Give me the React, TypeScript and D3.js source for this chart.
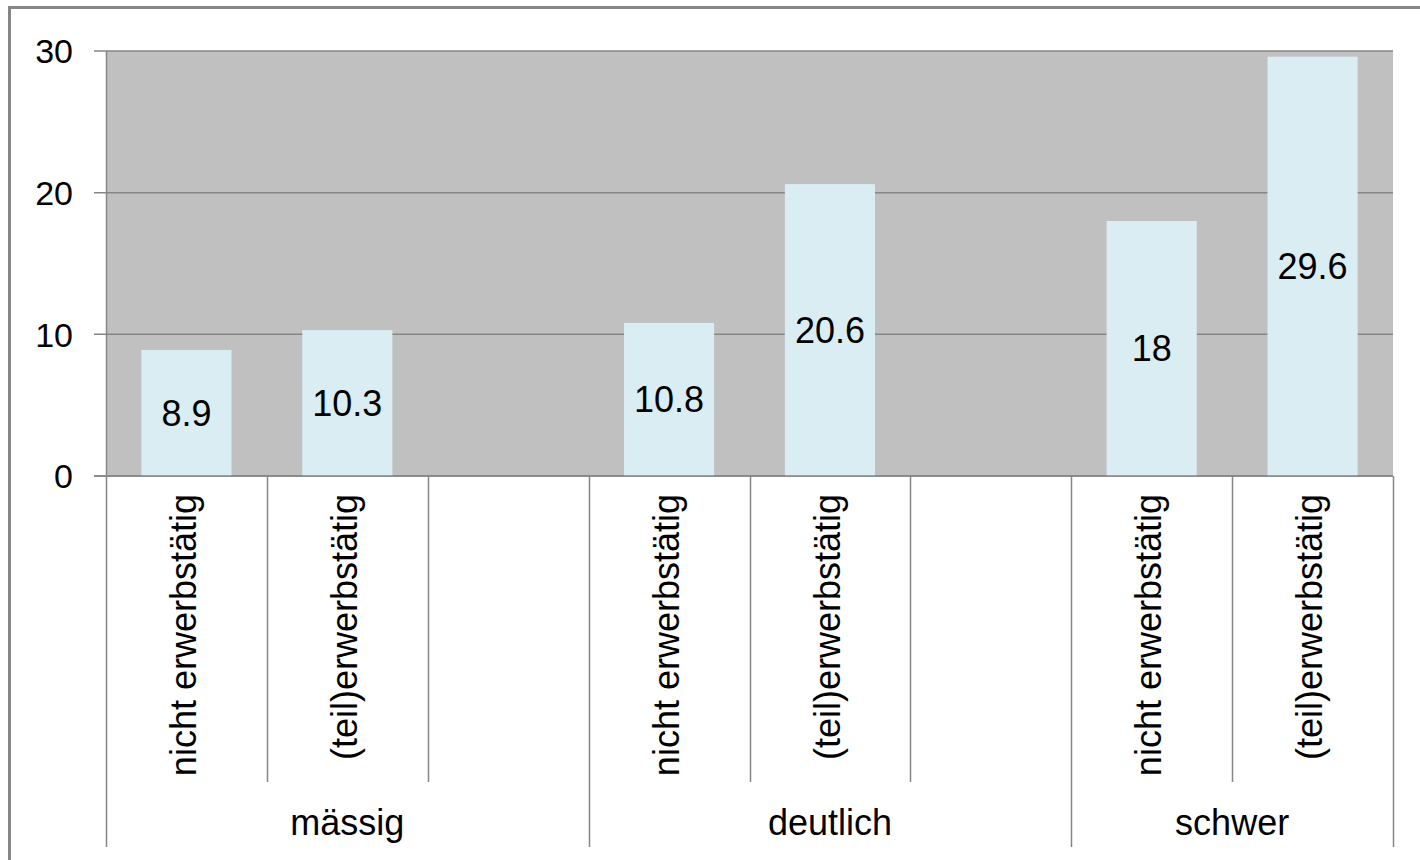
import React from "react";
import * as d3 from "d3";

// Category slots along the x axis (empty strings are spacer slots)
const slotLabels: string[] = [
  "nicht erwerbstätig",
  "(teil)erwerbstätig",
  "",
  "nicht erwerbstätig",
  "(teil)erwerbstätig",
  "",
  "nicht erwerbstätig",
  "(teil)erwerbstätig",
];

// Outer grouping level and how many slots each group covers
const groupLabels: string[] = ["mässig", "deutlich", "schwer"];
const groupSizes: number[] = [3, 3, 2];

// Bar values per slot (null = no bar)
const values: (number | null)[] = [8.9, 10.3, null, 10.8, 20.6, null, 18, 29.6];

const yTicks: number[] = [0, 10, 20, 30];

const W = 1420;
const H = 860;
const plot = { left: 106, right: 1393, top: 51, bottom: 476 };

const FONT = "'Liberation Sans', Arial, sans-serif";
const LINE = "#868686";
const PLOT_BG = "#C0C0C0";
const BAR = "#DAEDF3";

export default function App() {
  const idx = slotLabels.map((_, i) => String(i));
  const x = d3.scaleBand<string>().domain(idx).range([plot.left, plot.right]).padding(0);
  const step = x.step();
  const barW = step * 0.56;
  const barOff = (step - barW) / 2;

  const y = d3.scaleLinear().domain([0, 30]).range([plot.bottom, plot.top]);

  // group boundaries in slot indices
  const groupStarts: number[] = [];
  let acc = 0;
  groupSizes.forEach((n) => {
    groupStarts.push(acc);
    acc += n;
  });

  const slotEdge = (i: number) => (i >= slotLabels.length ? plot.right : (x(String(i)) as number));
  const groupEdgeSet = new Set<number>([...groupStarts, slotLabels.length]);

  const slotLineBottom = 782;
  const groupLineBottom = 847;
  const rotLabelTop = 494;
  const groupLabelBaseline = 835;

  return (
    <svg
      width={W}
      height={H}
      style={{ position: "fixed", left: 0, top: 0, background: "#fff" }}
      fontFamily={FONT}
    >
      {/* chart frame */}
      <rect x={9.5} y={7.5} width={W + 20} height={H + 20} fill="#fff" stroke={LINE} strokeWidth={3} />

      {/* plot area */}
      <rect x={plot.left} y={plot.top} width={plot.right - plot.left} height={plot.bottom - plot.top} fill={PLOT_BG} />

      {/* gridlines and y ticks */}
      {yTicks.map((t) => (
        <g key={t}>
          <line x1={94} x2={plot.right} y1={y(t)} y2={y(t)} stroke={LINE} strokeWidth={1.5} />
          <text x={73} y={y(t)} dy="0.36em" textAnchor="end" fontSize={34} fill="#000">
            {t}
          </text>
        </g>
      ))}

      {/* bars */}
      {values.map((v, i) =>
        v == null ? null : (
          <rect
            key={i}
            x={(x(String(i)) as number) + barOff}
            y={y(v)}
            width={barW}
            height={y(0) - y(v)}
            fill={BAR}
          />
        )
      )}

      {/* value labels, centred in each bar */}
      {values.map((v, i) =>
        v == null ? null : (
          <text
            key={i}
            x={(x(String(i)) as number) + step / 2}
            y={(y(v) + y(0)) / 2}
            dy="0.36em"
            textAnchor="middle"
            fontSize={36}
            fill="#000"
          >
            {v}
          </text>
        )
      )}

      {/* axes */}
      <line x1={94} x2={plot.right} y1={plot.bottom} y2={plot.bottom} stroke={LINE} strokeWidth={1.5} />

      {/* category separators: slot ticks short, group boundaries long */}
      {d3.range(slotLabels.length + 1).map((i) => {
        const xe = Math.round(slotEdge(i)) + 0.5;
        const long = groupEdgeSet.has(i);
        return (
          <line
            key={i}
            x1={xe}
            x2={xe}
            y1={i === 0 ? plot.top : plot.bottom}
            y2={long ? groupLineBottom : slotLineBottom}
            stroke={LINE}
            strokeWidth={1.5}
          />
        );
      })}

      {/* rotated slot labels */}
      {slotLabels.map((lab, i) =>
        lab ? (
          <text
            key={i}
            transform={`translate(${(x(String(i)) as number) + step / 2},${rotLabelTop}) rotate(-90)`}
            dy="0.27em"
            textAnchor="end"
            fontSize={36}
            fill="#000"
          >
            {lab}
          </text>
        ) : null
      )}

      {/* group labels */}
      {groupLabels.map((g, gi) => {
        const x0 = slotEdge(groupStarts[gi]);
        const x1 = slotEdge(groupStarts[gi] + groupSizes[gi]);
        return (
          <text key={g} x={(x0 + x1) / 2} y={groupLabelBaseline} textAnchor="middle" fontSize={36} fill="#000">
            {g}
          </text>
        );
      })}
    </svg>
  );
}
